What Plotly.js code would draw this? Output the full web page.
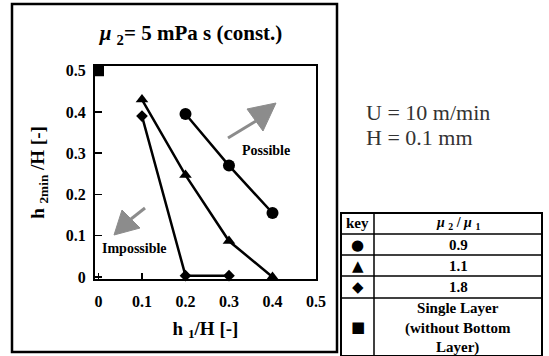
<!DOCTYPE html>
<html>
<head>
<meta charset="utf-8">
<script src="https://cdn.plot.ly/plotly-3.0.1.min.js"></script>
<style>html,body{margin:0;padding:0;background:#fff;} #chart{width:549px;height:356px;}</style>
</head>
<body>
<div id="chart"></div>
<script>
// ---- data ----
const xCircle = [0.2, 0.3, 0.4];
const yCircle = [0.395, 0.27, 0.155];
const xTriangle = [0.1, 0.2, 0.3, 0.4];
const yTriangle = [0.43, 0.247, 0.087, 0];
const xDiamond = [0.1, 0.2, 0.3];
const yDiamond = [0.39, 0.003, 0.003];
const xSquare = [0];
const ySquare = [0.5];
const xTicks = [0, 0.1, 0.2, 0.3, 0.4, 0.5];
const yTicks = [0, 0.1, 0.2, 0.3, 0.4, 0.5];
const tableRatios = ['0.9', '1.1', '1.8', 'Single Layer<br>(without Bottom<br>Layer)'];
const tableKeys = ['●', '▲', '◆', '■'];

const W = 549, H = 356;
const px = x => x / W;
const py = y => 1 - y / H;
const serif = 'Liberation Serif, Times New Roman, serif';

const lineStyle = {color: '#000', width: 2.5};
const traces = [
  {x: xCircle, y: yCircle, mode: 'lines+markers', line: lineStyle,
   marker: {symbol: 'circle', size: 12, color: '#000'}, cliponaxis: false},
  {x: xTriangle, y: yTriangle, mode: 'lines+markers', line: lineStyle,
   marker: {symbol: 'triangle-up', size: 11, color: '#000'}, cliponaxis: false},
  {x: xDiamond, y: yDiamond, mode: 'lines+markers', line: lineStyle,
   marker: {symbol: 'diamond', size: 9, color: '#000'}, cliponaxis: false},
  {x: xSquare, y: ySquare, mode: 'markers',
   marker: {symbol: 'square', size: 11, color: '#000'}, cliponaxis: false}
];

const shapes = [];
// outer chart frame
shapes.push({type: 'rect', xref: 'paper', yref: 'paper', x0: px(12), x1: px(337), y0: py(4), y1: py(352),
  line: {color: '#000', width: 2.5}});
// table
const tL = 341, tR = 542, tT = 213, tB = 356, tC = 374;
const rowLines = [234, 255, 276, 298];
shapes.push({type: 'rect', xref: 'paper', yref: 'paper', x0: px(tL), x1: px(tR), y0: py(tT), y1: py(tB),
  line: {color: '#000', width: 2}});
rowLines.forEach(y => shapes.push({type: 'line', xref: 'paper', yref: 'paper', x0: px(tL), x1: px(tR), y0: py(y), y1: py(y),
  line: {color: '#000', width: 1.5}}));
shapes.push({type: 'line', xref: 'paper', yref: 'paper', x0: px(tC), x1: px(tC), y0: py(tT), y1: py(tB),
  line: {color: '#000', width: 1.5}});

// gray arrows (decorations)
function arrow(tail, shaftEnd, b1, tip, b2) {
  shapes.push({type: 'line', xref: 'paper', yref: 'paper', x0: px(tail[0]), y0: py(tail[1]), x1: px(shaftEnd[0]), y1: py(shaftEnd[1]),
    line: {color: '#8c8c8c', width: 3}});
  shapes.push({type: 'path', xref: 'paper', yref: 'paper',
    path: `M ${px(b1[0])} ${py(b1[1])} L ${px(tip[0])} ${py(tip[1])} L ${px(b2[0])} ${py(b2[1])} Z`,
    fillcolor: '#8c8c8c', line: {color: '#8c8c8c', width: 1}});
}
arrow([228, 138], [256, 121], [247, 109], [276, 103], [263, 131]);
arrow([145, 208], [131, 219], [122, 210], [114, 235], [140, 228]);

const annotations = [];
const ann = (x, y, text, size, extra) => annotations.push(Object.assign({
  xref: 'paper', yref: 'paper', x: px(x), y: py(y), text: text, showarrow: false,
  xanchor: 'center', yanchor: 'middle',
  font: {family: serif, size: size, color: '#000', weight: 'bold'}}, extra || {}));

ann(266, 150, 'Possible', 14);
ann(134, 248, 'Impossible', 14);
ann(364, 112, 'U = 10 m/min', 22, {xanchor: 'left', font: {family: serif, size: 22, color: '#333', weight: 'normal'}});
ann(364, 138, 'H = 0.1 mm', 22, {xanchor: 'left', font: {family: serif, size: 22, color: '#333', weight: 'normal'}});

// table header
ann((tL + tC) / 2, (tT + rowLines[0]) / 2, 'key', 15);
ann((tC + tR) / 2, (tT + rowLines[0]) / 2, '<i>μ</i> <sub>2</sub> / <i>μ</i> <sub>1</sub>', 14);
const rowTops = [rowLines[0], rowLines[1], rowLines[2], rowLines[3]];
const rowBots = [rowLines[1], rowLines[2], rowLines[3], tB];
tableRatios.forEach((t, i) => {
  const yc = (rowTops[i] + rowBots[i]) / 2;
  ann((tC + tR) / 2, yc + (i === 3 ? 1 : 0), t, 15);
  ann((tL + tC) / 2, yc, tableKeys[i], 15, {font: {family: 'DejaVu Sans', size: 15, color: '#000'}});
});

const layout = {
  width: W, height: H,
  margin: {l: 0, r: 0, t: 0, b: 0},
  paper_bgcolor: '#fff', plot_bgcolor: '#fff',
  showlegend: false,
  title: {text: '<i>μ</i> <sub>2</sub>= 5 mPa s (const.)', xref: 'paper', yref: 'paper',
    x: px(191), y: py(33), xanchor: 'center', yanchor: 'middle',
    font: {family: serif, size: 21, color: '#000', weight: 'bold'}},
  xaxis: {
    domain: [px(95), px(316)], range: [-0.008, 0.5],
    tickvals: xTicks, ticktext: xTicks.map(String),
    ticks: 'inside', ticklen: 6, tickwidth: 1.5, tickcolor: '#000',
    showline: true, linecolor: '#000', linewidth: 2, mirror: true,
    showgrid: false, zeroline: false,
    ticklabelstandoff: 7,
    tickfont: {family: serif, size: 16, color: '#000', weight: 'bold'},
    title: {text: 'h <sub>1</sub>/H [-]', standoff: 12,
      font: {family: serif, size: 19, color: '#000', weight: 'bold'}}
  },
  yaxis: {
    domain: [py(279), py(66)], range: [-0.005, 0.5115],
    tickvals: yTicks, ticktext: yTicks.map(String),
    ticks: 'inside', ticklen: 7, tickwidth: 1.5, tickcolor: '#000',
    showline: true, linecolor: '#000', linewidth: 2, mirror: true,
    showgrid: false, zeroline: false,
    ticklabelstandoff: 4,
    tickfont: {family: serif, size: 16, color: '#000', weight: 'bold'},
    title: {text: 'h <sub>2min</sub> /H [-]', standoff: 16,
      font: {family: serif, size: 19, color: '#000', weight: 'bold'}}
  },
  shapes: shapes,
  annotations: annotations
};

Plotly.newPlot('chart', traces, layout, {displayModeBar: false, staticPlot: true});
</script>
</body>
</html>
